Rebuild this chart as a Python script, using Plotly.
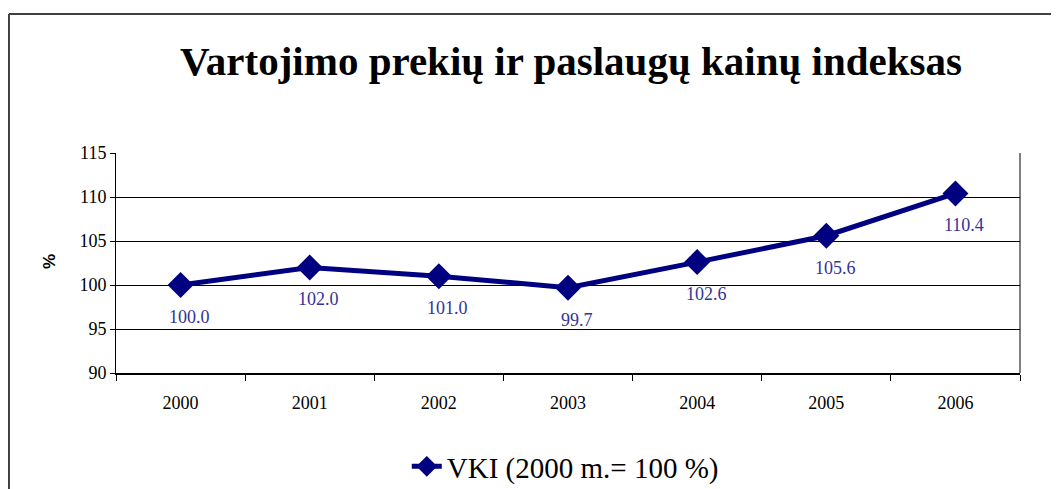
import plotly.graph_objects as go

years = ["2000", "2001", "2002", "2003", "2004", "2005", "2006"]
vki = [100.0, 102.0, 101.0, 99.7, 102.6, 105.6, 110.4]
labels = ["100.0", "102.0", "101.0", "99.7", "102.6", "105.6", "110.4"]
series_name = "VKI (2000 m.= 100 %)"
title_text = "Vartojimo prekių ir paslaugų kainų indeksas"
y_ticks = [90, 95, 100, 105, 110, 115]

serif = "Liberation Serif"
navy = "#000080"
label_color = "#333399"

fig = go.Figure()
fig.add_trace(go.Scatter(
    x=years, y=vki, mode="lines+markers", name=series_name,
    line=dict(color=navy, width=5),
    marker=dict(symbol="diamond", size=20, color=navy),
    cliponaxis=False,
))

annotations = []
for i, (v, lab) in enumerate(zip(vki, labels)):
    annotations.append(dict(x=i, y=v, xref="x", yref="y", text=lab, showarrow=False,
                            xshift=9, yshift=-32,
                            font=dict(family=serif, size=18, color=label_color)))
annotations.append(dict(x=0.503, y=1.418, xref="paper", yref="paper", text="<b>" + title_text + "</b>",
                        showarrow=False, xanchor="center", yanchor="middle",
                        font=dict(family=serif, size=41, color="black")))
annotations.append(dict(x=-0.073, y=0.505, xref="paper", yref="paper", text="<b>%</b>",
                        showarrow=False, textangle=-90, xanchor="center", yanchor="middle",
                        font=dict(family="Liberation Sans", size=17, color="black")))

frame = dict(color="#404040", width=2)
shapes = [
    dict(type="line", xref="paper", yref="paper", x0=-0.1184, y0=1.632, x1=1.1, y1=1.632, line=frame),
    dict(type="line", xref="paper", yref="paper", x0=-0.1184, y0=1.632, x1=-0.1184, y1=-0.7, line=frame),
    dict(type="line", xref="paper", yref="paper", x0=1, y0=0, x1=1, y1=1, line=dict(color="black", width=1)),
]

fig.update_layout(
    width=1059, height=489,
    margin=dict(l=108, r=47, t=145, b=124, autoexpand=False),
    plot_bgcolor="white", paper_bgcolor="white",
    showlegend=True,
    legend=dict(orientation="h", x=0.497, xanchor="center", y=-0.425, yanchor="middle",
                font=dict(family=serif, size=29, color="black")),
    annotations=annotations,
    shapes=shapes,
    xaxis=dict(type="category", tickson="boundaries", ticks="outside", ticklen=6, tickcolor="black",
               showline=True, linecolor="black", linewidth=2, showgrid=False, tickangle=0,
               range=[-0.5, 6.5], automargin=False,
               tickfont=dict(family=serif, size=18, color="black"), ticklabelstandoff=12),
    yaxis=dict(range=[90, 115], tickvals=y_ticks, ticks="outside", ticklen=5, tickcolor="black",
               showline=True, linecolor="black", linewidth=1, showgrid=True, gridcolor="black",
               gridwidth=1, zeroline=False, automargin=False,
               tickfont=dict(family=serif, size=18, color="black")),
)

fig.write_html("out.html")
